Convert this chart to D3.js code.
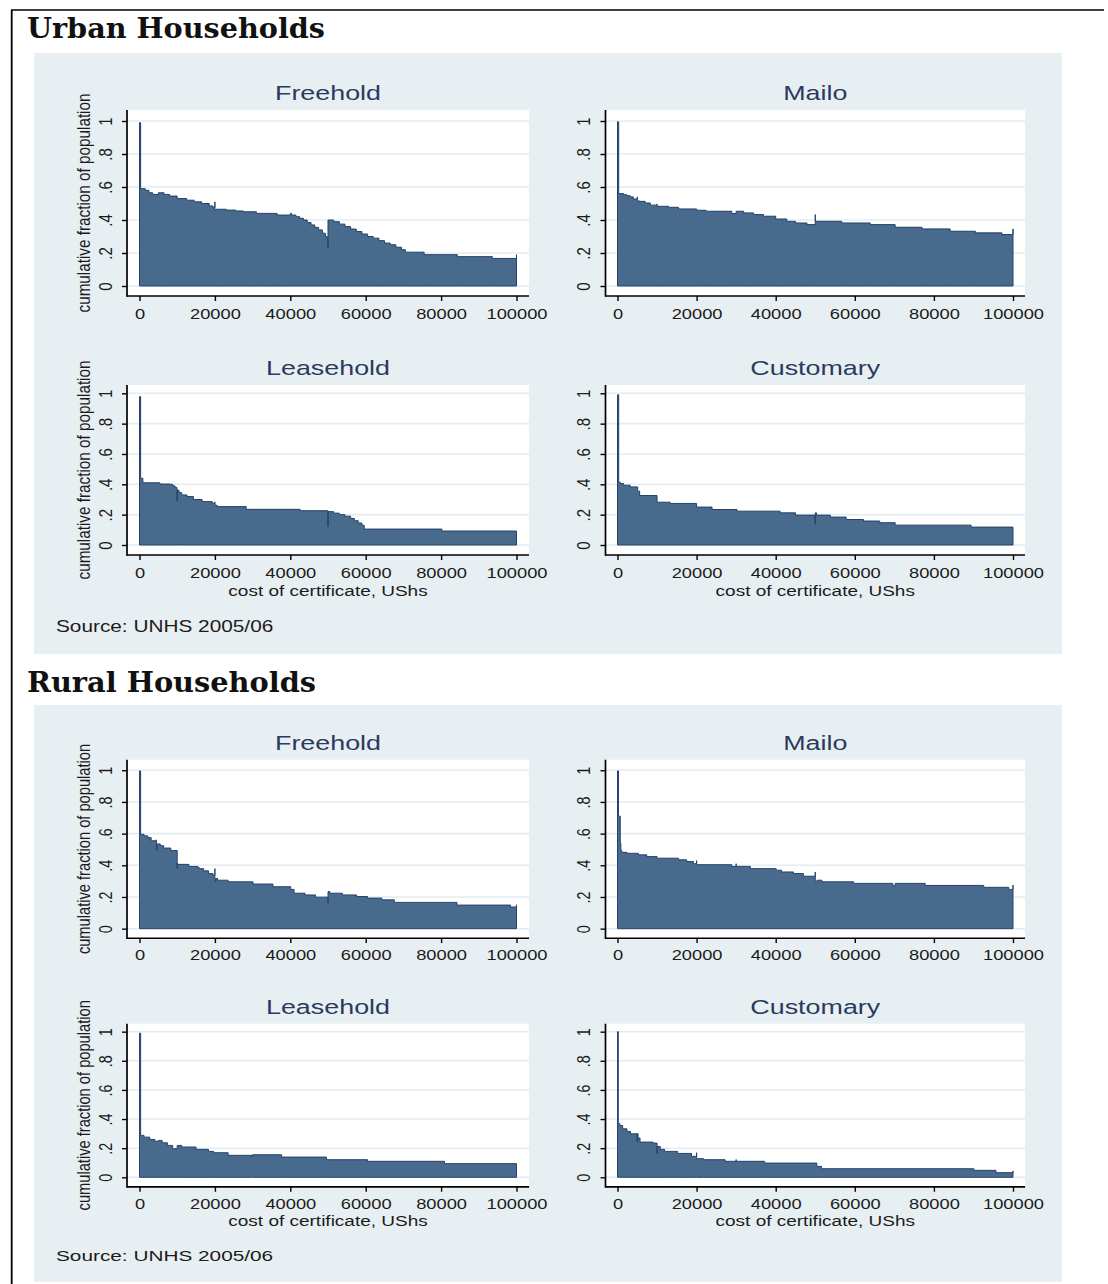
<!DOCTYPE html>
<html>
<head>
<meta charset="utf-8">
<script src="https://cdn.jsdelivr.net/npm/d3@7"></script>
<style>
  html, body { margin: 0; padding: 0; background: #fff; }
  svg { display: block; }
</style>
</head>
<body>
<svg id="fig" width="1108" height="1284"></svg>
<script>
// ---- data -------------------------------------------------------------
// Each series: [cost of certificate (USh), cumulative fraction] read as a
// step function (the level holds from this x until the next point).
const tenures = ["Freehold", "Mailo", "Leasehold", "Customary"];
const xTicks = [0, 20000, 40000, 60000, 80000, 100000];
const yTicks = [0, 0.2, 0.4, 0.6, 0.8, 1];
const yTickLabels = ["0", ".2", ".4", ".6", ".8", "1"];
const xTitle = "cost of certificate, UShs";
const yTitle = "cumulative fraction of population";
const sourceNote = "Source: UNHS 2005/06";
const figureTitles = ["Urban Households", "Rural Households"];

const urbanFreehold = [
  [0,0.99],[300,0.59],[1500,0.58],[2500,0.565],[3500,0.555],[4800,0.55],[5000,0.565],
  [6500,0.555],[8000,0.545],[10000,0.53],[12500,0.52],[14500,0.51],[16500,0.50],
  [18500,0.485],[19500,0.475],[20000,0.51],[20000,0.46],[20300,0.465],[23000,0.46],
  [25500,0.455],[27500,0.45],[31000,0.44],[36500,0.43],[40000,0.44],[40300,0.43],
  [41500,0.42],[42500,0.41],[43500,0.40],[44500,0.385],[45500,0.37],[46500,0.355],
  [47500,0.34],[48500,0.32],[49300,0.30],[49800,0.28],[50000,0.23],[50000,0.40],
  [51500,0.39],[53000,0.375],[54500,0.36],[56000,0.345],[57500,0.33],[59000,0.315],
  [60500,0.30],[62000,0.29],[63500,0.275],[65000,0.26],[66500,0.25],[68000,0.235],
  [69500,0.22],[70500,0.205],[75500,0.19],[84300,0.178],[93600,0.167],[100000,0.19]
];
const urbanMailo = [
  [0,0.995],[300,0.56],[1500,0.553],[2400,0.547],[3200,0.54],[4000,0.527],[5000,0.54],
  [5000,0.515],[5700,0.513],[7000,0.503],[8300,0.49],[10000,0.497],[10000,0.483],
  [12900,0.477],[15400,0.467],[20000,0.459],[22400,0.453],[28900,0.439],[30000,0.453],
  [31900,0.443],[34400,0.433],[36900,0.423],[40000,0.406],[42800,0.392],[45000,0.382],
  [47900,0.372],[50000,0.433],[50000,0.392],[56700,0.382],[63900,0.372],[70200,0.356],
  [77000,0.346],[84100,0.332],[90500,0.322],[97200,0.312],[100000,0.346]
];
const urbanLeasehold = [
  [0,0.978],[300,0.44],[900,0.41],[5400,0.402],[8100,0.40],[8800,0.39],[9400,0.38],
  [9900,0.37],[10000,0.29],[10000,0.36],[10500,0.345],[11200,0.33],[12600,0.319],
  [14300,0.30],[16600,0.286],[19300,0.275],[20000,0.284],[20000,0.262],[20600,0.253],
  [28300,0.235],[42600,0.226],[50000,0.12],[50000,0.22],[51500,0.21],[53000,0.20],
  [54500,0.19],[56000,0.175],[57000,0.16],[58000,0.145],[59000,0.13],[59600,0.105],
  [80200,0.092],[100000,0.092]
];
const urbanCustomary = [
  [0,0.99],[300,0.414],[700,0.405],[1500,0.394],[3200,0.383],[5100,0.355],[5600,0.326],
  [10000,0.282],[13300,0.274],[20000,0.25],[23900,0.234],[30200,0.223],[41100,0.212],
  [45000,0.197],[50000,0.136],[50000,0.212],[50300,0.197],[53800,0.184],[57800,0.168],
  [62200,0.158],[66300,0.147],[70200,0.131],[89400,0.118],[100000,0.118]
];
const ruralFreehold = [
  [0,0.996],[300,0.596],[1200,0.586],[2200,0.575],[3100,0.555],[4500,0.561],[4500,0.493],
  [4700,0.535],[5500,0.524],[6400,0.509],[8300,0.493],[10000,0.379],[10000,0.41],
  [10200,0.406],[13100,0.393],[15500,0.385],[15900,0.379],[17000,0.365],[18300,0.348],
  [19500,0.337],[20000,0.379],[20000,0.296],[20200,0.317],[20700,0.306],[23500,0.296],
  [30100,0.282],[35400,0.265],[40100,0.248],[41000,0.224],[43900,0.213],[46700,0.199],
  [50000,0.161],[50000,0.234],[50500,0.224],[53800,0.213],[57600,0.203],[60500,0.193],
  [64300,0.182],[67600,0.166],[84200,0.149],[98400,0.137],[100000,0.151]
];
const ruralMailo = [
  [0,0.996],[250,0.71],[700,0.538],[850,0.493],[1100,0.482],[2400,0.476],[5300,0.466],
  [7400,0.455],[10000,0.445],[15400,0.435],[17500,0.424],[19200,0.41],[20000,0.43],
  [20000,0.404],[28900,0.393],[30000,0.41],[30000,0.393],[33600,0.379],[40100,0.369],
  [41500,0.358],[44500,0.348],[47000,0.331],[50000,0.358],[50000,0.29],[50400,0.306],
  [51700,0.296],[59700,0.286],[69600,0.271],[70200,0.286],[77800,0.273],[92600,0.261],
  [98900,0.248],[100000,0.275]
];
const ruralLeasehold = [
  [0,0.99],[300,0.288],[1200,0.276],[2700,0.26],[4100,0.247],[5000,0.253],[6000,0.237],
  [7400,0.219],[8800,0.196],[10000,0.219],[11200,0.208],[15000,0.192],[18300,0.178],
  [19700,0.169],[23500,0.151],[29700,0.14],[30000,0.155],[37700,0.139],[49600,0.121],
  [60500,0.11],[80900,0.094],[100000,0.094]
];
const ruralCustomary = [
  [0,1.0],[200,0.368],[600,0.356],[1300,0.333],[2400,0.315],[3300,0.299],[5000,0.242],
  [5000,0.299],[5200,0.27],[5700,0.242],[9000,0.235],[10000,0.162],[10000,0.212],
  [10800,0.192],[11900,0.178],[15200,0.164],[18700,0.144],[20000,0.169],[20000,0.128],
  [21800,0.121],[27200,0.11],[30000,0.122],[30000,0.11],[37200,0.098],[50400,0.075],
  [51600,0.059],[90100,0.048],[95700,0.032],[100000,0.043]
];

const urbanSeries = [urbanFreehold, urbanMailo, urbanLeasehold, urbanCustomary];
const ruralSeries = [ruralFreehold, ruralMailo, ruralLeasehold, ruralCustomary];

// ---- styling & layout -------------------------------------------------
const SANS = "'Liberation Sans', Arial, Helvetica, sans-serif";
const regionFill = "#e8eff2";
const gridColor = "#e3ecef";
const areaFill = "#486a8c";
const areaLine = "#23426a";
const titleColor = "#2b3a5e";
const inkColor = "#1b1b1b";

// panel frames in the figure's own coordinates (figure region starts at y=53)
const panelFrames = [
  { x0: 127,   x1: 529,  top: 110, bottom: 296, xa: 139.5, xb: 516.5, y0: 286, y1: 121,   left: true,  low: false },
  { x0: 605.5, x1: 1025, top: 110, bottom: 296, xa: 617.5, xb: 1013,  y0: 286, y1: 121,   left: false, low: false },
  { x0: 127,   x1: 529,  top: 385, bottom: 555, xa: 139.5, xb: 516.5, y0: 545, y1: 393.3, left: true,  low: true },
  { x0: 605.5, x1: 1025, top: 385, bottom: 555, xa: 617.5, xb: 1013,  y0: 545, y1: 393.3, left: false, low: true }
];

const svg = d3.select("#fig");

// page frame rules
svg.append("line").attr("x1", 11).attr("x2", 1104).attr("y1", 10).attr("y2", 10)
  .attr("stroke", "#000").attr("stroke-width", 1.6);
svg.append("line").attr("x1", 11.7).attr("x2", 11.7).attr("y1", 10).attr("y2", 1284)
  .attr("stroke", "#000").attr("stroke-width", 1.8);

function headline(text, y, width) {
  svg.append("text")
    .attr("x", 27).attr("y", y)
    .attr("font-family", "'DejaVu Serif', 'Liberation Serif', serif")
    .attr("font-weight", "bold")
    .attr("font-size", 27)
    .attr("textLength", width)
    .attr("lengthAdjust", "spacingAndGlyphs")
    .attr("fill", "#111")
    .text(text);
}

// horizontally widened label (the graph is exported with a wide aspect)
function wideText(g, text, x, y, size, sx, opts = {}) {
  const t = g.append("text")
    .attr("transform", `translate(${x},${y}) scale(${sx},1)` + (opts.rotate ? " rotate(-90)" : ""))
    .attr("text-anchor", opts.anchor || "middle")
    .attr("font-family", SANS)
    .attr("font-size", size)
    .attr("fill", opts.fill || inkColor)
    .text(text);
  if (opts.dy) t.attr("dy", opts.dy);
  if (opts.length) t.attr("textLength", opts.length).attr("lengthAdjust", "spacingAndGlyphs");
  return t;
}

function drawPanel(g, p, series, title) {
  const x = d3.scaleLinear().domain([0, 100000]).range([p.xa, p.xb]);
  const y = d3.scaleLinear().domain([0, 1]).range([p.y0, p.y1]);

  g.append("rect")
    .attr("x", p.x0).attr("y", p.top)
    .attr("width", p.x1 - p.x0).attr("height", p.bottom - p.top)
    .attr("fill", "#fff");

  g.append("g").selectAll("line").data(yTicks).join("line")
    .attr("x1", p.x0).attr("x2", p.x1)
    .attr("y1", d => y(d)).attr("y2", d => y(d))
    .attr("stroke", gridColor).attr("stroke-width", 1.6);

  const area = d3.area()
    .curve(d3.curveStepAfter)
    .x(d => x(d[0]))
    .y0(y(0))
    .y1(d => y(d[1]));

  g.append("path")
    .datum(series)
    .attr("d", area)
    .attr("fill", areaFill)
    .attr("stroke", areaLine)
    .attr("stroke-width", 1)
    .attr("stroke-linejoin", "miter");

  // y axis
  const gy = g.append("g")
    .attr("transform", `translate(${p.x0},0)`)
    .call(d3.axisLeft(y).tickValues(yTicks).tickFormat((d, i) => yTickLabels[i]).tickSize(5).tickSizeOuter(0));
  gy.select(".domain").remove();
  gy.selectAll(".tick line").attr("stroke", "#000").attr("stroke-width", 1.4);
  gy.selectAll(".tick text")
    .attr("x", null).attr("dy", null)
    .attr("transform", "translate(-22,0) scale(1.25,1) rotate(-90)")
    .attr("text-anchor", "middle")
    .attr("dy", "0.36em")
    .attr("font-family", SANS).attr("font-size", 15).attr("fill", inkColor);
  g.append("line").attr("x1", p.x0).attr("x2", p.x0).attr("y1", p.top).attr("y2", p.bottom + 0.8)
    .attr("stroke", "#000").attr("stroke-width", 1.7);

  // x axis
  const gx = g.append("g")
    .attr("transform", `translate(0,${p.bottom})`)
    .call(d3.axisBottom(x).tickValues(xTicks).tickFormat(d3.format("d")).tickSize(5).tickSizeOuter(0));
  gx.select(".domain").remove();
  gx.selectAll(".tick line").attr("stroke", "#000").attr("stroke-width", 1.4);
  gx.selectAll(".tick text")
    .attr("y", null).attr("dy", null)
    .attr("transform", "translate(0,23) scale(1.22,1)")
    .attr("text-anchor", "middle")
    .attr("font-family", SANS).attr("font-size", 15).attr("fill", inkColor);
  g.append("line").attr("x1", p.x0).attr("x2", p.x1).attr("y1", p.bottom).attr("y2", p.bottom)
    .attr("stroke", "#000").attr("stroke-width", 1.7);

  // subgraph title
  wideText(g, title, (p.x0 + p.x1) / 2, p.top - 10, 21, 1.28, { fill: titleColor });

  if (p.left) {
    wideText(g, yTitle, 83.5, (p.top + p.bottom) / 2, 15, 1.25,
      { rotate: true, dy: "0.36em", length: 219 });
  }
  if (p.low) {
    wideText(g, xTitle, (p.x0 + p.x1) / 2, p.bottom + 41, 14.5, 1.31);
  }
}

function drawFigure(g, seriesList) {
  g.append("rect").attr("x", 34).attr("y", 53).attr("width", 1028).attr("height", 601)
    .attr("fill", regionFill);
  panelFrames.forEach((p, i) => drawPanel(g, p, seriesList[i], tenures[i]));
  wideText(g, sourceNote, 56, 632, 16, 1.3, { anchor: "start" });
}

headline(figureTitles[0], 38, 298);
drawFigure(svg.append("g"), urbanSeries);

headline(figureTitles[1], 692, 289);
drawFigure(svg.append("g").attr("transform", "translate(0,705) scale(1,0.96) translate(0,-53)"), ruralSeries);
</script>
</body>
</html>
